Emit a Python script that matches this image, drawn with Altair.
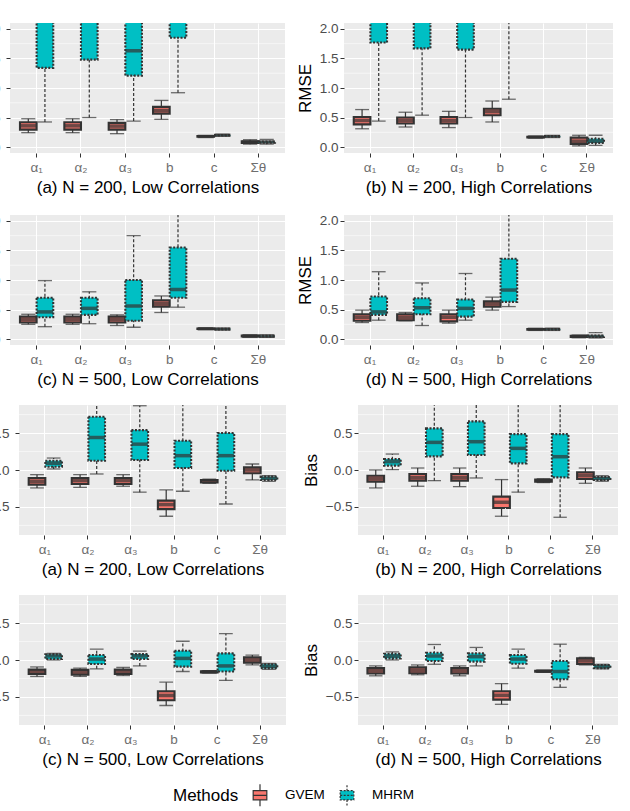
import altair as alt
import pandas as pd

PARAMS = ["α₁", "α₂", "α₃", "b", "c", "Σθ"]
METHODS = ["GVEM", "MHRM"]
FILLS = ["#F8766D", "#00BFC4"]

RMSE_TICKS = [0.0, 0.5, 1.0, 1.5, 2.0]
RMSE_MINOR = [0.25, 0.75, 1.25, 1.75]
RMSE_DOMAIN = [-0.1, 2.1]
BIAS_TICKS = [-0.5, 0.0, 0.5]
BIAS_MINOR = [-0.75, -0.25, 0.25, 0.75]
BIAS_DOMAIN = [-0.88, 0.88]

# (lower whisker, Q1, median, Q3, upper whisker) for each parameter
RMSE_200_LOW_GVEM = [(0.244, 0.295, 0.36, 0.42, 0.48), (0.244, 0.295, 0.36, 0.42, 0.48),
                     (0.227, 0.295, 0.355, 0.41, 0.465), (0.47, 0.567, 0.62, 0.68, 0.79),
                     (0.17, 0.175, 0.18, 0.185, 0.19), (0.05, 0.07, 0.085, 0.10, 0.125)]
RMSE_200_LOW_MHRM = [(0.425, 1.34, 2.4, 3.2, 4.5), (0.50, 1.48, 2.5, 3.3, 4.6),
                     (0.44, 1.21, 1.63, 2.6, 4.0), (0.92, 1.85, 2.6, 3.4, 4.8),
                     (0.19, 0.195, 0.2, 0.205, 0.215), (0.05, 0.075, 0.085, 0.095, 0.13)]
RMSE_200_HIGH_GVEM = [(0.31, 0.385, 0.45, 0.51, 0.635), (0.34, 0.40, 0.45, 0.50, 0.59),
                      (0.33, 0.40, 0.45, 0.51, 0.605), (0.425, 0.54, 0.60, 0.65, 0.78),
                      (0.16, 0.165, 0.17, 0.175, 0.18), (0.02, 0.055, 0.10, 0.16, 0.20)]
RMSE_200_HIGH_MHRM = [(0.44, 1.77, 2.5, 3.3, 4.6), (0.54, 1.67, 2.4, 3.2, 4.5),
                      (0.50, 1.65, 2.4, 3.2, 4.5), (0.81, 2.3, 2.9, 3.6, 5.0),
                      (0.17, 0.175, 0.18, 0.185, 0.19), (0.03, 0.07, 0.10, 0.14, 0.20)]
RMSE_500_LOW_GVEM = [(0.25, 0.28, 0.33, 0.38, 0.42), (0.25, 0.28, 0.33, 0.38, 0.42),
                     (0.23, 0.28, 0.33, 0.38, 0.41), (0.45, 0.55, 0.60, 0.655, 0.73),
                     (0.165, 0.17, 0.175, 0.18, 0.185), (0.035, 0.045, 0.05, 0.06, 0.07)]
RMSE_500_LOW_MHRM = [(0.21, 0.37, 0.46, 0.70, 0.99), (0.26, 0.41, 0.52, 0.70, 0.80),
                     (0.20, 0.31, 0.56, 1.00, 1.75), (0.54, 0.70, 0.84, 1.55, 2.6),
                     (0.16, 0.165, 0.17, 0.175, 0.18), (0.035, 0.045, 0.05, 0.055, 0.07)]
RMSE_500_HIGH_GVEM = [(0.28, 0.31, 0.37, 0.42, 0.49), (0.31, 0.32, 0.37, 0.42, 0.45),
                      (0.27, 0.30, 0.37, 0.42, 0.49), (0.49, 0.55, 0.60, 0.64, 0.71),
                      (0.155, 0.16, 0.165, 0.17, 0.175), (0.025, 0.035, 0.045, 0.055, 0.065)]
RMSE_500_HIGH_MHRM = [(0.32, 0.41, 0.46, 0.72, 1.14), (0.23, 0.42, 0.53, 0.69, 0.95),
                      (0.32, 0.38, 0.52, 0.67, 1.11), (0.55, 0.63, 0.83, 1.36, 2.5),
                      (0.155, 0.16, 0.165, 0.17, 0.18), (0.02, 0.035, 0.045, 0.06, 0.11)]

BIAS_200_LOW_GVEM = [(-0.243, -0.198, -0.153, -0.108, -0.063), (-0.234, -0.189, -0.144, -0.108, -0.063),
                     (-0.22, -0.189, -0.144, -0.108, -0.063), (-0.626, -0.53, -0.468, -0.414, -0.27),
                     (-0.18, -0.17, -0.153, -0.135, -0.125), (-0.135, -0.045, 0.0, 0.036, 0.081)]
BIAS_200_LOW_MHRM = [(0.014, 0.045, 0.09, 0.126, 0.162), (-0.054, 0.126, 0.44, 0.72, 1.3),
                     (-0.30, 0.135, 0.35, 0.54, 0.87), (-0.288, 0.027, 0.194, 0.396, 1.1),
                     (-0.46, -0.01, 0.194, 0.5, 1.3), (-0.153, -0.135, -0.113, -0.09, -0.077)]
BIAS_200_HIGH_GVEM = [(-0.243, -0.158, -0.117, -0.077, 0.0), (-0.22, -0.144, -0.10, -0.054, 0.027),
                      (-0.225, -0.144, -0.10, -0.054, 0.027), (-0.626, -0.514, -0.437, -0.36, -0.13),
                      (-0.17, -0.16, -0.144, -0.13, -0.12), (-0.18, -0.122, -0.077, -0.032, 0.027)]
BIAS_200_HIGH_MHRM = [(0.005, 0.059, 0.113, 0.149, 0.216), (-0.144, 0.185, 0.374, 0.563, 1.2),
                      (-0.108, 0.203, 0.383, 0.658, 1.2), (-0.30, 0.09, 0.293, 0.486, 1.0),
                      (-0.64, -0.10, 0.18, 0.486, 1.3), (-0.153, -0.135, -0.113, -0.095, -0.077)]
BIAS_500_LOW_GVEM = [(-0.223, -0.19, -0.16, -0.13, -0.094), (-0.223, -0.20, -0.17, -0.134, -0.11),
                     (-0.21, -0.19, -0.16, -0.13, -0.10), (-0.616, -0.545, -0.48, -0.424, -0.30),
                     (-0.175, -0.17, -0.16, -0.152, -0.145), (-0.067, -0.036, 0.0, 0.036, 0.067)]
BIAS_500_LOW_MHRM = [(0.0, 0.013, 0.054, 0.076, 0.09), (-0.12, -0.054, 0.013, 0.067, 0.147),
                     (-0.08, 0.013, 0.054, 0.08, 0.12), (-0.156, -0.09, 0.022, 0.125, 0.254),
                     (-0.277, -0.156, -0.08, 0.09, 0.357), (-0.125, -0.11, -0.085, -0.058, -0.045)]
BIAS_500_HIGH_GVEM = [(-0.214, -0.183, -0.147, -0.11, -0.08), (-0.20, -0.18, -0.138, -0.10, -0.067),
                      (-0.214, -0.183, -0.147, -0.11, -0.08), (-0.60, -0.536, -0.478, -0.424, -0.32),
                      (-0.165, -0.16, -0.152, -0.145, -0.14), (-0.067, -0.054, -0.013, 0.022, 0.036)]
BIAS_500_HIGH_MHRM = [(0.0, 0.022, 0.054, 0.085, 0.11), (-0.058, -0.013, 0.054, 0.098, 0.21),
                      (-0.08, -0.022, 0.045, 0.09, 0.17), (-0.11, -0.05, 0.013, 0.067, 0.147),
                      (-0.37, -0.26, -0.156, -0.013, 0.214), (-0.12, -0.11, -0.09, -0.067, -0.058)]

CAPTIONS = ["(a) N = 200, Low Correlations", "(b) N = 200, High Correlations",
            "(c) N = 500, Low Correlations", "(d) N = 500, High Correlations"]

BOX_PATH = ("M-0.62,-0.42L0.62,-0.42L0.62,0.42L-0.62,0.42Z "
            "M-0.62,0L0.62,0 M0,-0.42L0,-1 M0,0.42L0,1")

DARK = "#333333"
FONT = "Liberation Sans"

fill_scale = alt.Scale(domain=METHODS, range=FILLS)
stroke_scale = alt.Scale(domain=METHODS, range=[DARK, DARK])
dash_scale = alt.Scale(domain=METHODS, range=[[1, 0], [2, 1.5]])
legend = alt.Legend(title="Methods", orient="none", legendX=211, legendY=760,
                    direction="horizontal", titleOrient="left", titleFontSize=17,
                    titleFontWeight="normal", titleColor="black", titleFont=FONT,
                    labelFontSize=13.5, labelColor="black", labelFont=FONT,
                    symbolType=BOX_PATH, symbolSize=484, symbolStrokeColor=DARK,
                    symbolStrokeWidth=1.2, labelOffset=13, columnPadding=10,
                    titlePadding=9)


def make_df(gvem, mhrm):
    rows = []
    for method, stats in (("GVEM", gvem), ("MHRM", mhrm)):
        for p, (lo, q1, med, q3, hi) in zip(PARAMS, stats):
            rows.append(dict(param=p, Method=method, lo=lo, q1=q1, med=med, q3=q3, hi=hi))
    return pd.DataFrame(rows)


def panel(gvem, mhrm, caption, metric, width, right_col):
    df = make_df(gvem, mhrm)
    if metric == "RMSE":
        dom, ticks, minor = RMSE_DOMAIN, RMSE_TICKS, RMSE_MINOR
    else:
        dom, ticks, minor = BIAS_DOMAIN, BIAS_TICKS, BIAS_MINOR
    box_w = width / 6.2 * 0.375
    yscale = alt.Scale(domain=dom, nice=False, zero=False)
    yaxis = alt.Axis(title=metric if right_col else None, values=ticks, format=".1f",
                     grid=True, gridColor="white", gridWidth=1.1, tickColor=DARK,
                     tickSize=4, labelPadding=2 if right_col else 6, labelFontSize=13.5,
                     labelColor="#4D4D4D", labelFont=FONT, titleFont=FONT, titleFontSize=17,
                     titleFontWeight="normal", titleColor="black", titlePadding=5,
                     domain=False)
    x = alt.X("param:N", sort=PARAMS,
              scale=alt.Scale(domain=PARAMS, paddingInner=0.25, paddingOuter=0.225),
              axis=alt.Axis(title=caption, bandPosition=0.5, grid=True, gridColor="white",
                            gridWidth=1.1, tickColor=DARK, tickSize=4, labelPadding=3,
                            labelAngle=0, labelFontSize=13.5, labelColor="#6E6E6E",
                            labelFont=FONT, titleFont=FONT, titleFontSize=17,
                            titleFontWeight="normal", titleColor="black", titlePadding=6,
                            domain=False))
    xo = alt.XOffset("Method:N", sort=METHODS,
                     scale=alt.Scale(domain=METHODS, paddingInner=0, paddingOuter=0))

    def Y(field):
        return alt.Y(field, type="quantitative", scale=yscale, axis=yaxis)

    minor_layer = alt.Chart(pd.DataFrame({"v": minor})).mark_rule(
        color="white", strokeWidth=0.55).encode(y=Y("v"))
    base = alt.Chart(df)
    whisk_g = base.transform_filter(alt.datum.Method == "GVEM").mark_rule(
        color=DARK, strokeWidth=1.2, clip=True).encode(x=x, xOffset=xo, y=Y("lo"), y2="hi:Q")
    whisk_m = base.transform_filter(alt.datum.Method == "MHRM").mark_rule(
        color=DARK, strokeWidth=1.2, strokeDash=[3, 2], clip=True).encode(
        x=x, xOffset=xo, y=Y("lo"), y2="hi:Q")
    cap_lo = base.mark_tick(color=DARK, size=box_w * 0.85, thickness=1.3, clip=True).encode(
        x=x, xOffset=xo, y=Y("lo"))
    cap_hi = base.mark_tick(color=DARK, size=box_w * 0.85, thickness=1.3, clip=True).encode(
        x=x, xOffset=xo, y=Y("hi"))
    box = base.mark_bar(strokeWidth=2.1, clip=True).encode(
        x=x, xOffset=xo, y=Y("q1"), y2="q3:Q",
        fill=alt.Fill("Method:N", scale=fill_scale, legend=legend),
        stroke=alt.Stroke("Method:N", scale=stroke_scale, legend=legend),
        strokeDash=alt.StrokeDash("Method:N", scale=dash_scale, legend=legend))
    med = base.mark_tick(color=DARK, size=box_w - 0.5, thickness=3.5, clip=True).encode(
        x=x, xOffset=xo, y=Y("med"))
    return alt.layer(minor_layer, whisk_g, whisk_m, cap_lo, cap_hi, box, med).properties(
        width=width, height=130)


def spacer(w):
    return alt.Chart(pd.DataFrame({"v": [0]})).mark_point(opacity=0).encode(
        x=alt.X("v:Q", axis=None), y=alt.Y("v:Q", axis=None)
    ).properties(width=w, height=130, view=alt.ViewBackground(fill="white", strokeWidth=0))


def row(left, right, gap):
    # spacer width + gap kept constant so that left panels stay in place
    return alt.hconcat(spacer(19 - gap), left, right, spacing=gap)


rows = [
    row(panel(RMSE_200_LOW_GVEM, RMSE_200_LOW_MHRM, CAPTIONS[0], "RMSE", 275, False),
        panel(RMSE_200_HIGH_GVEM, RMSE_200_HIGH_MHRM, CAPTIONS[1], "RMSE", 269, True), 10),
    row(panel(RMSE_500_LOW_GVEM, RMSE_500_LOW_MHRM, CAPTIONS[2], "RMSE", 275, False),
        panel(RMSE_500_HIGH_GVEM, RMSE_500_HIGH_MHRM, CAPTIONS[3], "RMSE", 269, True), 10),
    row(panel(BIAS_200_LOW_GVEM, BIAS_200_LOW_MHRM, CAPTIONS[0], "Bias", 267, False),
        panel(BIAS_200_HIGH_GVEM, BIAS_200_HIGH_MHRM, CAPTIONS[1], "Bias", 260, True), 15),
    row(panel(BIAS_500_LOW_GVEM, BIAS_500_LOW_MHRM, CAPTIONS[2], "Bias", 267, False),
        panel(BIAS_500_HIGH_GVEM, BIAS_500_HIGH_MHRM, CAPTIONS[3], "Bias", 260, True), 15),
]

chart = alt.vconcat(*rows, spacing=17).properties(
    padding={"left": -39, "top": 21, "right": 2, "bottom": 0},
    background="white",
).configure(font=FONT, view=alt.ViewConfig(fill="#EBEBEB", strokeWidth=0))

chart.save("out.html", embed_options={"renderer": "svg", "actions": False})
